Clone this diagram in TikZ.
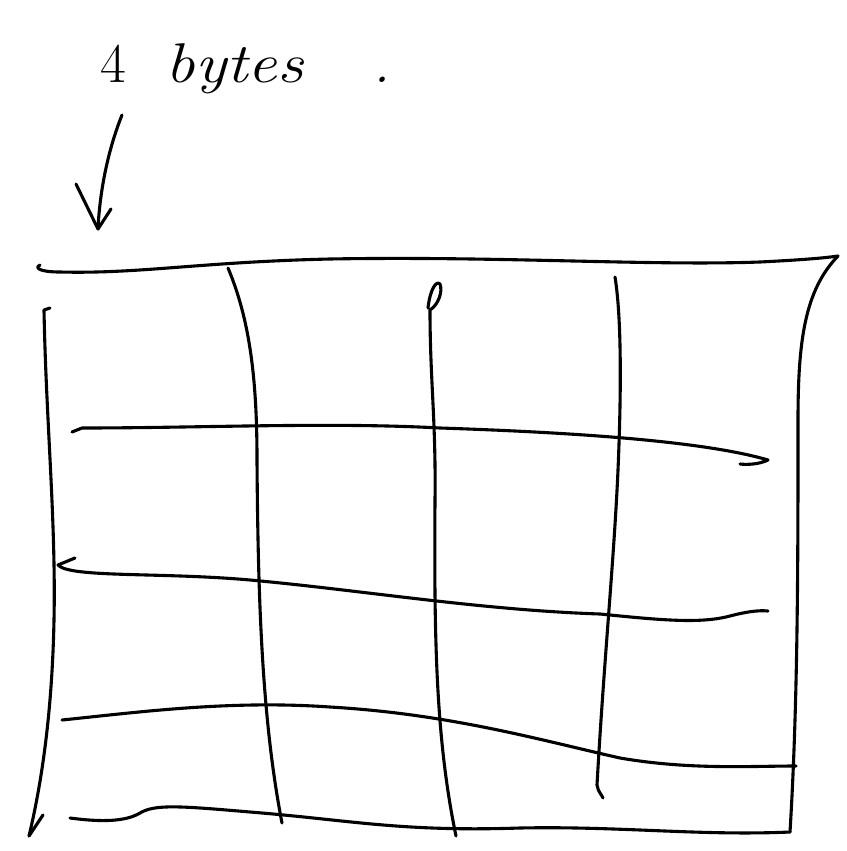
\documentclass[tikz,border=0pt]{standalone}
\begin{document}
\begin{tikzpicture}[x=1pt,y=-1pt,
  ink/.style={line width=3.1pt,line cap=round,line join=round,black},
  hand/.style={font=\fontsize{56}{60}\selectfont\itshape,inner sep=0pt,anchor=base west}]
\useasboundingbox (0,0) rectangle (846,851);
% label
\node[hand] (lbl) at (100,82) {\upshape 4\hspace{40pt}\itshape\scalebox{1.17}[1]{bytes}\hspace{70pt}.};
% arrow
\draw[ink] (122,115) .. controls (108,150) and (100,190) .. (98,228);
\draw[ink] (76,184) -- (98,229) -- (111,209);
% top edge
\draw[ink] (40,265) .. controls (34,268) and (40,272) .. (60,272)
  .. controls (140,274) and (200,262) .. (330,259)
  .. controls (500,256) and (650,266) .. (760,262)
  .. controls (800,260) and (825,258) .. (838,256);
% right edge
\draw[ink] (838,256) .. controls (805,290) and (798,340) .. (798,420)
  .. controls (798,560) and (798,700) .. (790,832);
% left edge
\draw[ink] (50,308) -- (44,310) .. controls (46,420) and (56,520) .. (54,620)
  .. controls (52,720) and (40,790) .. (29,836);
\draw[ink] (29,836) -- (43,815);
% verticals
\draw[ink] (228,268) .. controls (250,320) and (257,380) .. (257,460)
  .. controls (258,600) and (262,720) .. (282,823);
\draw[ink] (428,308) .. controls (430,290) and (436,280) .. (440,284)
  .. controls (443,292) and (438,305) .. (430,310)
  .. controls (430,380) and (436,420) .. (435,500)
  .. controls (434,640) and (436,740) .. (456,836);
\draw[ink] (615,277) .. controls (622,320) and (621,400) .. (618,470)
  .. controls (614,560) and (604,660) .. (597,785)
  .. controls (598,792) and (602,795) .. (603,798);
% horizontal rows
\draw[ink] (72,432) -- (82,428) .. controls (200,428) and (330,422) .. (440,428)
  .. controls (560,432) and (700,440) .. (768,460)
  .. controls (760,464) and (748,465) .. (740,464);
\draw[ink] (75,558) -- (58,565) .. controls (70,578) and (160,572) .. (250,580)
  .. controls (360,590) and (480,610) .. (600,614)
  .. controls (660,620) and (700,624) .. (730,616)
  .. controls (745,612) and (758,610) .. (768,611);
\draw[ink] (62,720) .. controls (140,712) and (230,700) .. (330,707)
  .. controls (450,714) and (540,740) .. (620,758)
  .. controls (690,770) and (750,766) .. (796,766);
\draw[ink] (70,818) .. controls (100,822) and (125,822) .. (140,813)
  .. controls (155,804) and (180,806) .. (250,812)
  .. controls (350,820) and (400,832) .. (520,828)
  .. controls (620,826) and (700,836) .. (790,832);
\end{tikzpicture}
\end{document}
